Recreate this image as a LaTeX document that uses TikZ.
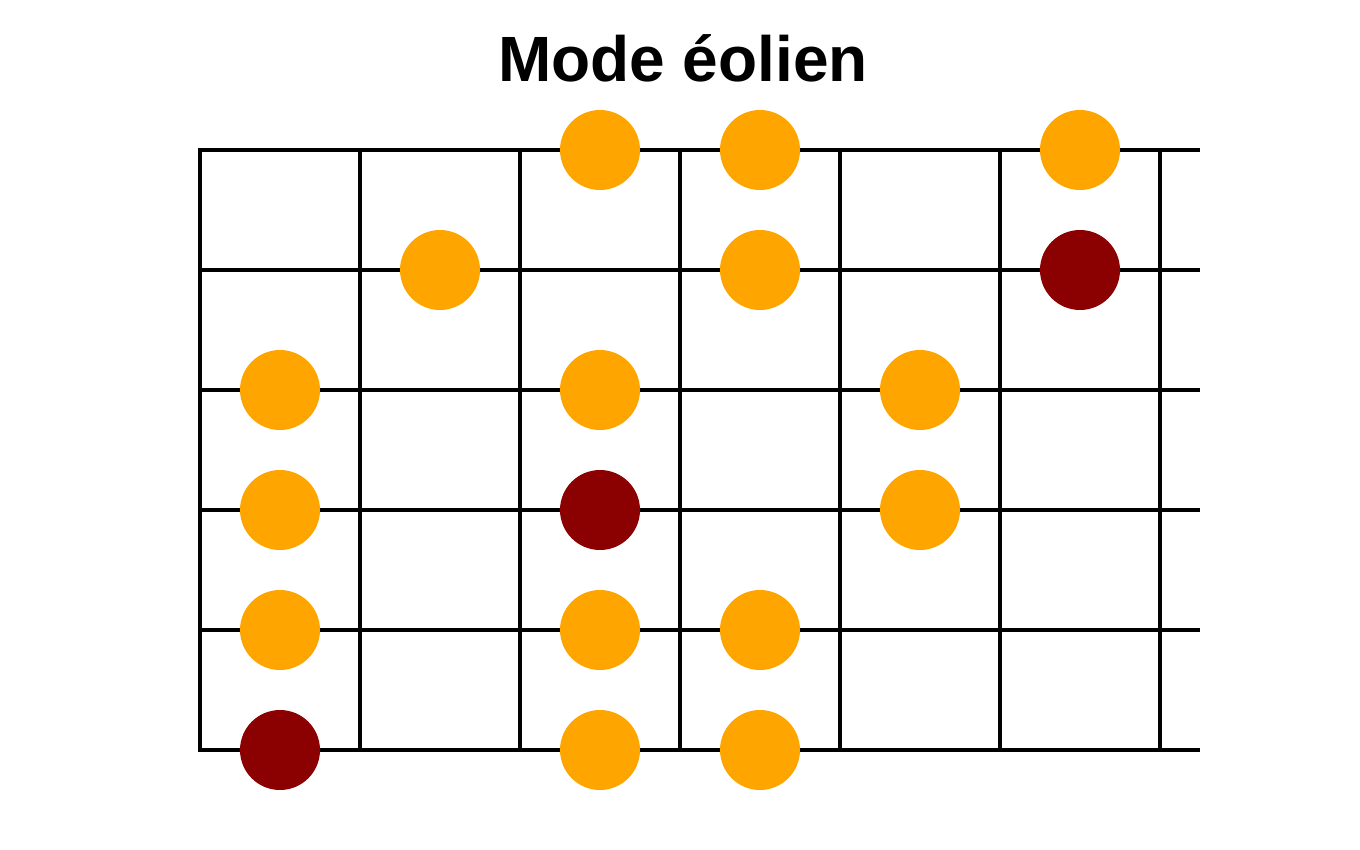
\documentclass[tikz,border=0pt]{standalone}
\usepackage{fontspec}
\setmainfont{Liberation Sans}
\begin{document}
\begin{tikzpicture}[x=1pt,y=-1pt,
  grid/.style={line width=4pt,black},
  dotA/.style={circle,fill={rgb,255:red,255;green,165;blue,0},minimum size=80pt,inner sep=0pt},
  dotR/.style={circle,fill={rgb,255:red,139;green,0;blue,0},minimum size=80pt,inner sep=0pt}]
\useasboundingbox (0,0) rectangle (1360,850);
\node (title) at (683,58) {\fontsize{64}{70}\selectfont\bfseries Mode éolien};
\foreach \y in {150,270,390,510,630,750} \draw[grid] (198,\y) -- (1200,\y);
\foreach \x in {200,360,520,680,840,1000,1160} \draw[grid] (\x,150) -- (\x,750);
\node[dotA] (a1) at (600,150) {};
\node[dotA] (a2) at (760,150) {};
\node[dotA] (a3) at (1080,150) {};
\node[dotA] (b1) at (440,270) {};
\node[dotA] (b2) at (760,270) {};
\node[dotR] (b3) at (1080,270) {};
\node[dotA] (c1) at (280,390) {};
\node[dotA] (c2) at (600,390) {};
\node[dotA] (c3) at (920,390) {};
\node[dotA] (d1) at (280,510) {};
\node[dotR] (d2) at (600,510) {};
\node[dotA] (d3) at (920,510) {};
\node[dotA] (e1) at (280,630) {};
\node[dotA] (e2) at (600,630) {};
\node[dotA] (e3) at (760,630) {};
\node[dotR] (f1) at (280,750) {};
\node[dotA] (f2) at (600,750) {};
\node[dotA] (f3) at (760,750) {};
\end{tikzpicture}
\end{document}
